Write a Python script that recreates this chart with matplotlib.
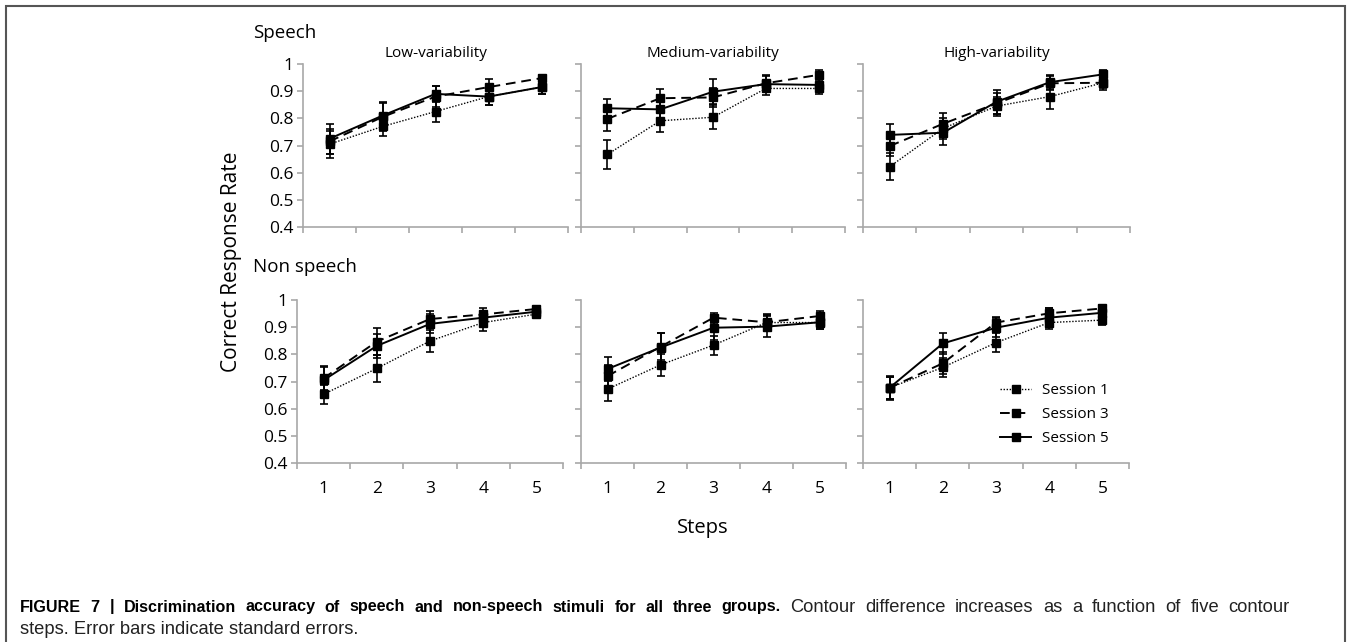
import matplotlib
matplotlib.use("Agg")
import matplotlib.pyplot as plt
from matplotlib.patches import Rectangle
from matplotlib.ticker import FixedLocator, NullFormatter

# =========================
# DATA
# =========================
steps = [1, 2, 3, 4, 5]
sessions = ["Session 1", "Session 3", "Session 5"]
groups = ["Low-variability", "Medium-variability", "High-variability"]

# speech
speech_low_s1 = [0.705, 0.770, 0.825, 0.880, 0.915]
speech_low_s3 = [0.715, 0.805, 0.880, 0.915, 0.948]
speech_low_s5 = [0.725, 0.810, 0.890, 0.880, 0.915]
speech_low_e1 = [0.050, 0.035, 0.040, 0.030, 0.025]
speech_low_e3 = [0.045, 0.050, 0.040, 0.030, 0.010]
speech_low_e5 = [0.055, 0.050, 0.030, 0.030, 0.025]

speech_med_s1 = [0.667, 0.791, 0.804, 0.910, 0.910]
speech_med_s3 = [0.798, 0.874, 0.877, 0.929, 0.960]
speech_med_s5 = [0.837, 0.833, 0.898, 0.926, 0.923]
speech_med_e1 = [0.055, 0.040, 0.045, 0.025, 0.020]
speech_med_e3 = [0.045, 0.035, 0.035, 0.030, 0.018]
speech_med_e5 = [0.035, 0.035, 0.045, 0.030, 0.020]

speech_high_s1 = [0.622, 0.763, 0.845, 0.880, 0.931]
speech_high_s3 = [0.698, 0.780, 0.855, 0.929, 0.931]
speech_high_s5 = [0.739, 0.747, 0.861, 0.933, 0.962]
speech_high_e1 = [0.050, 0.040, 0.035, 0.045, 0.025]
speech_high_e3 = [0.035, 0.040, 0.040, 0.025, 0.020]
speech_high_e5 = [0.040, 0.045, 0.045, 0.025, 0.015]

# non speech
nonsp_low_s1 = [0.653, 0.748, 0.849, 0.917, 0.948]
nonsp_low_s3 = [0.712, 0.847, 0.930, 0.947, 0.967]
nonsp_low_s5 = [0.705, 0.831, 0.912, 0.935, 0.957]
nonsp_low_e1 = [0.035, 0.050, 0.040, 0.030, 0.010]
nonsp_low_e3 = [0.045, 0.050, 0.030, 0.025, 0.008]
nonsp_low_e5 = [0.050, 0.045, 0.035, 0.025, 0.010]

nonsp_med_s1 = [0.672, 0.761, 0.834, 0.917, 0.917]
nonsp_med_s3 = [0.720, 0.828, 0.935, 0.918, 0.941]
nonsp_med_s5 = [0.746, 0.825, 0.898, 0.902, 0.918]
nonsp_med_e1 = [0.045, 0.040, 0.035, 0.030, 0.025]
nonsp_med_e3 = [0.040, 0.050, 0.018, 0.025, 0.020]
nonsp_med_e5 = [0.045, 0.055, 0.045, 0.040, 0.025]

nonsp_high_s1 = [0.677, 0.752, 0.843, 0.917, 0.926]
nonsp_high_s3 = [0.677, 0.767, 0.917, 0.951, 0.969]
nonsp_high_s5 = [0.677, 0.840, 0.898, 0.935, 0.953]
nonsp_high_e1 = [0.040, 0.035, 0.035, 0.025, 0.018]
nonsp_high_e3 = [0.040, 0.040, 0.020, 0.020, 0.012]
nonsp_high_e5 = [0.045, 0.040, 0.035, 0.035, 0.025]

speech_rows = [
    ([speech_low_s1, speech_low_s3, speech_low_s5], [speech_low_e1, speech_low_e3, speech_low_e5]),
    ([speech_med_s1, speech_med_s3, speech_med_s5], [speech_med_e1, speech_med_e3, speech_med_e5]),
    ([speech_high_s1, speech_high_s3, speech_high_s5], [speech_high_e1, speech_high_e3, speech_high_e5]),
]
nonsp_rows = [
    ([nonsp_low_s1, nonsp_low_s3, nonsp_low_s5], [nonsp_low_e1, nonsp_low_e3, nonsp_low_e5]),
    ([nonsp_med_s1, nonsp_med_s3, nonsp_med_s5], [nonsp_med_e1, nonsp_med_e3, nonsp_med_e5]),
    ([nonsp_high_s1, nonsp_high_s3, nonsp_high_s5], [nonsp_high_e1, nonsp_high_e3, nonsp_high_e5]),
]

yticks = [0.4, 0.5, 0.6, 0.7, 0.8, 0.9, 1.0]
ytick_labels = ["0.4", "0.5", "0.6", "0.7", "0.8", "0.9", "1"]

caption_bold = "FIGURE 7 | Discrimination accuracy of speech and non-speech stimuli for all three groups."
caption_rest1 = "Contour difference increases as a function of five contour"
caption_rest2 = "steps. Error bars indicate standard errors."

# =========================
# LAYOUT (pixels)
# =========================
W, H = 1349, 642
FONT = "Open Sans"
SPINE = "#a8a8a8"

# (left, right) x pixels, (top, bottom) y pixels
top_boxes = [(303, 568), (581, 845), (863, 1130)]
bot_boxes = [(297, 563), (581, 846), (863, 1129)]
top_y = (64, 227)
bot_y = (300, 463)

line_styles = [
    dict(linestyle=(0, (1, 1.2)), linewidth=1.0),
    dict(linestyle=(0, (5, 3)), linewidth=1.4),
    dict(linestyle="-", linewidth=1.4),
]


def px_axes(fig, xr, yr):
    l, r = xr
    t, b = yr
    return fig.add_axes([l / W, 1 - b / H, (r - l) / W, (b - t) / H])


def style_axes(ax, show_y, show_x):
    ax.set_xlim(0.5, 5.5)
    ax.set_ylim(0.4, 1.0)
    for s in ["top", "right"]:
        ax.spines[s].set_visible(False)
    for s in ["left", "bottom"]:
        ax.spines[s].set_color(SPINE)
        ax.spines[s].set_linewidth(1.2)
    ax.set_yticks(yticks)
    ax.xaxis.set_major_locator(FixedLocator(steps))
    ax.xaxis.set_minor_locator(FixedLocator([0.5, 1.5, 2.5, 3.5, 4.5, 5.5]))
    ax.tick_params(axis="x", which="major", length=0, pad=13)
    ax.tick_params(axis="x", which="minor", length=4, width=1.2, color=SPINE, direction="out")
    ax.tick_params(axis="y", length=4, width=1.2, color=SPINE, direction="out", pad=3)
    if show_y:
        ax.set_yticklabels(ytick_labels, fontsize=12.5, family=FONT)
    else:
        ax.set_yticklabels([])
    if show_x:
        ax.set_xticklabels([str(s) for s in steps], fontsize=12.5, family=FONT)
    else:
        ax.set_xticklabels([])
    ax.xaxis.set_minor_formatter(NullFormatter())
    ax.patch.set_alpha(0)


def draw_panel(ax, series, errs):
    handles = []
    for vals, err, ls, lab in zip(series, errs, line_styles, sessions):
        ax.errorbar(steps, vals, yerr=err, fmt="none", ecolor="black",
                    elinewidth=1.2, capsize=3, capthick=1.2, zorder=3)
        h, = ax.plot(steps, vals, color="black", marker="s", markersize=5.5,
                     markerfacecolor="black", markeredgecolor="black",
                     label=lab, zorder=4, **ls)
        handles.append(h)
    return handles


fig = plt.figure(figsize=(W / 100, H / 100), dpi=100)

handles = None
for i, ((xr, (series, errs))) in enumerate(zip(top_boxes, speech_rows)):
    ax = px_axes(fig, xr, top_y)
    draw_panel(ax, series, errs)
    style_axes(ax, show_y=(i == 0), show_x=False)
    ax.set_title(groups[i], fontsize=11, family=FONT, pad=5)

for i, ((xr, (series, errs))) in enumerate(zip(bot_boxes, nonsp_rows)):
    ax = px_axes(fig, xr, bot_y)
    handles = draw_panel(ax, series, errs)
    style_axes(ax, show_y=(i == 0), show_x=True)
    if i == 2:
        ax.legend(handles=handles, loc="lower right", bbox_to_anchor=(0.945, 0.065),
                  frameon=False, prop={"family": FONT, "size": 11},
                  handlelength=2.0, handletextpad=0.7, labelspacing=0.6,
                  borderaxespad=0)

# row labels and axis labels
fig.text(253 / W, 1 - 33 / H, "Speech", fontsize=13.5, family=FONT, ha="left", va="center")
fig.text(253 / W, 1 - 267 / H, "Non speech", fontsize=13.5, family=FONT, ha="left", va="center")
fig.text(232 / W, 1 - 262 / H, "Correct Response Rate", fontsize=15, family=FONT,
         rotation=90, ha="center", va="center")
fig.text(703 / W, 1 - 528 / H, "Steps", fontsize=14.5, family=FONT, ha="center", va="center")

# frame around the figure
fig.patches.append(Rectangle((6 / W, -0.02), (1345 - 6) / W, (H - 5.5) / H + 0.02,
                             transform=fig.transFigure, fill=False,
                             edgecolor="#555555", linewidth=1.5))

# caption: first line justified between x=20 and x=1290 (bold lead-in, then regular)
cap_font = "Liberation Sans"
renderer = fig.canvas.get_renderer()
items = []
for w in caption_bold.split():
    t = fig.text(0, 1 - 607 / H, w, fontsize=11.6, family=cap_font, weight="bold",
                 color="black", ha="left", va="center")
    items.append((t, t.get_window_extent(renderer=renderer).width))
for w in caption_rest1.split():
    t = fig.text(0, 1 - 607 / H, w, fontsize=13.2, family=cap_font,
                 color="#222222", ha="left", va="center")
    items.append((t, t.get_window_extent(renderer=renderer).width))
gap = (1290 - 20 - sum(wd for _, wd in items)) / (len(items) - 1)
x = 20.0
for t, wd in items:
    t.set_x(x / W)
    x += wd + gap
fig.text(20 / W, 1 - 630 / H, caption_rest2,
         fontsize=13.2, family=cap_font, color="#222222", ha="left", va="center")

fig.savefig("out.png", dpi=100)
plt.close(fig)
